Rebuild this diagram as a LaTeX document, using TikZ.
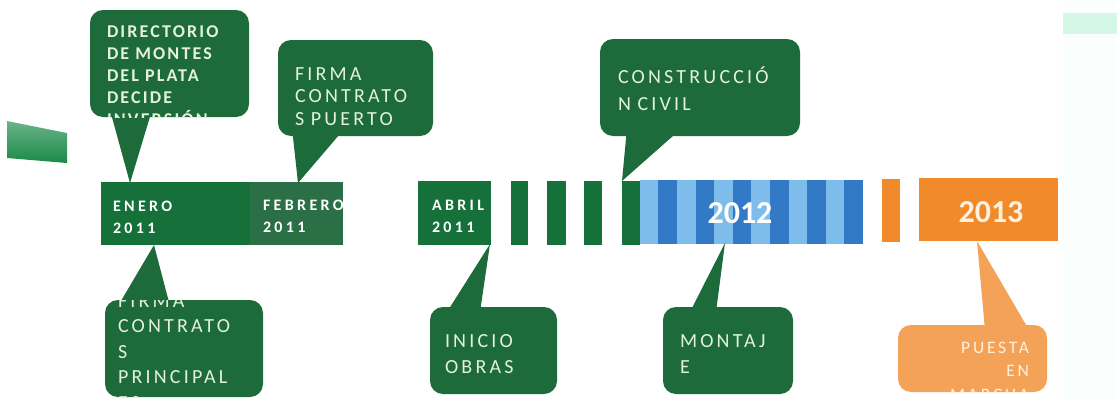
\documentclass[tikz,border=0pt]{standalone}
\usepackage{fontspec}
\setmainfont{Carlito}
\newfontfamily\cbold[LetterSpace=12]{Carlito}
\newfontfamily\creg[LetterSpace=16]{Carlito}
\newfontfamily\cbar[LetterSpace=21]{Carlito}
\newfontfamily\cyear{Carlito}
\definecolor{cgreen}{HTML}{1D6B3A}
\definecolor{barg}{HTML}{16703A}
\definecolor{febg}{HTML}{2B6F47}
\definecolor{lblue}{HTML}{7DBCEB}
\definecolor{dblue}{HTML}{3279C6}
\definecolor{corange}{HTML}{F08A2A}
\definecolor{lorange}{HTML}{F4A257}
\definecolor{ctxt}{HTML}{E3F1DD}
\definecolor{otxt}{HTML}{FFF1DE}
\definecolor{smear}{HTML}{1A8A48}
\definecolor{mint}{HTML}{D2F7E7}
\definecolor{faint}{HTML}{FAFEFC}
\begin{document}
\begin{tikzpicture}[x=1pt,y=-1pt,
  bar/.style={rectangle,inner sep=0,outer sep=0,draw=none},
  cbox/.style={rectangle,rounded corners=13pt,inner sep=0,outer sep=0,draw=none,fill=#1},
  tail/.style={fill=#1,draw=none},
  ctext/.style={anchor=base west,inner sep=0,outer sep=0,text=ctxt,align=left,text width=220pt},
  btext/.style={anchor=base west,inner sep=0,outer sep=0,text=white,align=left,text width=120pt,font=\cbar\bfseries\fontsize{16}{22}\selectfont},
  ytext/.style={anchor=base,inner sep=0,outer sep=0,font=\cyear\bfseries\fontsize{32}{36}\selectfont}
]
\useasboundingbox (0,0) rectangle (1117,399);
\fill[white] (0,0) rectangle (1117,399);
% decorative fragments
\fill[faint] (1063,0) rectangle (1117,399);
\fill[mint] (1063,13) rectangle (1117,34);
\shade[top color=smear!65,bottom color=smear] (7,121) -- (67,133) -- (67,163) -- (7,158) -- cycle;

% timeline bars
\node[bar,fill=barg,minimum width=149,minimum height=63] (enero) at (175.5,213.5) {};
\node[bar,fill=febg,minimum width=93,minimum height=63] (febrero) at (296.5,213.5) {};
\node[bar,fill=barg,minimum width=73,minimum height=64] (abril) at (454.5,213) {};
\node[bar,fill=barg,minimum width=17,minimum height=64] (g1) at (519.5,213) {};
\node[bar,fill=barg,minimum width=19,minimum height=64] (g2) at (556.5,213) {};
\node[bar,fill=barg,minimum width=18,minimum height=64] (g3) at (593,213) {};
\node[bar,fill=barg,minimum width=18,minimum height=64] (g4) at (631,213) {};
\foreach \i/\c in {0/lblue,1/dblue,2/lblue,3/dblue,4/lblue,5/dblue,6/lblue,7/dblue,8/lblue,9/dblue,10/lblue,11/dblue}{
  \node[bar,fill=\c,minimum width=18.9,minimum height=64] (s\i) at ({640+18.583*\i+9.29},212) {};
}
\node[bar,fill=corange,minimum width=18,minimum height=63] (o1) at (891,210.5) {};
\node[bar,fill=corange,minimum width=139,minimum height=63] (y2013) at (988.5,209.5) {};

% bar texts
\node[btext] (tenero) at (113,211) {ENERO\\2011};
\begin{scope}
\clip (febrero.north west) rectangle (febrero.south east);
\node[btext] (tfeb) at (263,210) {FEBRERO\\2011};
\end{scope}
\node[btext] (tabril) at (432,210) {ABRIL\\2011};
\node[ytext,text=white] (t2012) at (740,223) {2012};
\node[ytext,text=otxt] (t2013) at (991,222) {2013};

% callout anchor points on the timeline
\coordinate (a1) at (130,183);
\coordinate (a2) at (298,183);
\coordinate (a3) at (154,245);
\coordinate (a4) at (622,181);
\coordinate (a5) at (490,244);
\coordinate (a6) at (725,243);
\coordinate (a7) at (977,241);

% callout 1
\node[cbox=cgreen,minimum width=159,minimum height=107] (c1) at (169.5,63.5) {};
\fill[tail=cgreen] (110,110) -- (a1) -- (152,110) -- cycle;
\begin{scope}
\clip[rounded corners=13pt] (c1.north west) rectangle (c1.south east);
\node[ctext,font=\cbold\bfseries\fontsize{18}{22}\selectfont] (t1) at (107,37)
  {DIRECTORIO\\DE MONTES\\DEL PLATA\\DECIDE\\INVERSIÓN};
\end{scope}

% callout 2
\node[cbox=cgreen,minimum width=155,minimum height=96] (c2) at (355.5,88) {};
\fill[tail=cgreen] (292,128) -- (a2) -- (345,128) -- cycle;
\begin{scope}
\clip[rounded corners=13pt] (c2.north west) rectangle (c2.south east);
\node[ctext,font=\creg\fontsize{20}{22.5}\selectfont] (t2) at (295,80)
  {FIRMA\\CONTRATO\\S PUERTO};
\end{scope}

% callout 3
\node[cbox=cgreen,minimum width=158,minimum height=97] (c3) at (184,348.5) {};
\fill[tail=cgreen] (118,306) -- (a3) -- (170,306) -- cycle;
\begin{scope}
\clip[rounded corners=13pt] (c3.north west) rectangle (c3.south east);
\node[ctext,font=\creg\fontsize{20}{25.5}\selectfont] (t3) at (118,307)
  {FIRMA\\CONTRATO\\S\\PRINCIPAL\\ES};
\end{scope}

% callout 4
\node[cbox=cgreen,minimum width=200,minimum height=97] (c4) at (700,87.5) {};
\fill[tail=cgreen] (627,128) -- (a4) -- (682,128) -- cycle;
\begin{scope}
\clip[rounded corners=13pt] (c4.north west) rectangle (c4.south east);
\node[ctext,font=\creg\fontsize{20}{27}\selectfont] (t4) at (618,83)
  {CONSTRUCCIÓ\\N CIVIL};
\end{scope}

% callout 5
\node[cbox=cgreen,minimum width=127,minimum height=87] (c5) at (493.5,350.5) {};
\fill[tail=cgreen] (447,312) -- (a5) -- (480,312) -- cycle;
\begin{scope}
\clip[rounded corners=13pt] (c5.north west) rectangle (c5.south east);
\node[ctext,font=\creg\fontsize{20}{26}\selectfont] (t5) at (445,347)
  {INICIO\\OBRAS};
\end{scope}

% callout 6
\node[cbox=cgreen,minimum width=130,minimum height=87] (c6) at (728,350.5) {};
\fill[tail=cgreen] (690,312) -- (a6) -- (716,312) -- cycle;
\begin{scope}
\clip[rounded corners=13pt] (c6.north west) rectangle (c6.south east);
\node[ctext,font=\creg\fontsize{20}{26}\selectfont] (t6) at (680,347)
  {MONTAJ\\E};
\end{scope}

% callout 7
\node[cbox=lorange,minimum width=149,minimum height=67] (c7) at (972.5,358.5) {};
\fill[tail=lorange] (985,330) -- (a7) -- (1029,330) -- cycle;
\begin{scope}
\clip[rounded corners=13pt] (c7.north west) rectangle (c7.south east);
\node[anchor=base east,inner sep=0,outer sep=0,text=otxt,align=right,text width=150pt,
  font=\creg\fontsize{17.5}{23.5}\selectfont] (t7) at (1029,353)
  {PUESTA\\EN\\MARCHA};
\end{scope}
\end{tikzpicture}
\end{document}
